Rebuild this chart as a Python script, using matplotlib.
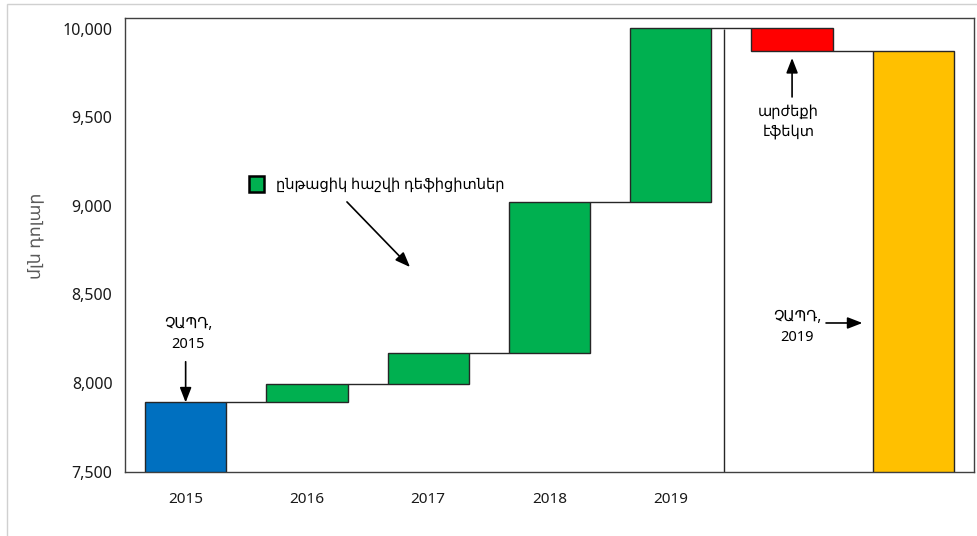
import matplotlib
matplotlib.use('Agg')
import matplotlib.pyplot as plt
from matplotlib.patches import Patch, Rectangle

plt.rcParams['font.family'] = ['Noto Sans', 'DejaVu Sans']

# Waterfall of the net position, mln USD
years = ['2015', '2016', '2017', '2018', '2019']
start_2015 = 7890
deficits = [105, 177, 851, 985]      # current account deficits 2016-2019
valuation = -133                     # valuation effect

blue = '#0070C0'
green = '#00B050'
red = '#FF0000'
yellow = '#FFC000'
edge = '#262626'
width = 0.67

fig = plt.figure(figsize=(9.77, 5.36), dpi=100)
ax = fig.add_axes([125 / 977, 64.5 / 536, 849 / 977, 453.5 / 536])

# first bar: starting position
ax.bar(0, start_2015 - 7500, width, bottom=7500, color=blue,
       edgecolor=edge, linewidth=1, zorder=3)

level = start_2015
levels = [level]
for i, d in enumerate(deficits):
    ax.bar(i + 1, d, width, bottom=level, color=green,
           edgecolor=edge, linewidth=1, zorder=3)
    level += d
    levels.append(level)

# valuation effect
ax.bar(5, valuation, width, bottom=level, color=red,
       edgecolor=edge, linewidth=1, zorder=3)
level += valuation
levels.append(level)

# final position
ax.bar(6, level - 7500, width, bottom=7500, color=yellow,
       edgecolor=edge, linewidth=1, zorder=3)

# connectors between bars
for i, lv in enumerate(levels):
    ax.hlines(lv, i + width / 2, i + 1 - width / 2, color=edge,
              linewidth=1, zorder=2)

# separator between yearly flows and the rest
ax.vlines(4.44, 7500, levels[4] - 8, color=edge, linewidth=1, zorder=2)

ax.set_xlim(-0.5, 6.5)
ax.set_ylim(7500, 10062)
ax.set_xticks(range(len(years)))
ax.set_xticklabels(years)
ax.set_yticks([7500, 8000, 8500, 9000, 9500, 10000])
ax.set_yticklabels(['7,500', '8,000', '8,500', '9,000', '9,500', '10,000'])
ax.tick_params(axis='x', length=0, pad=15, labelsize=11, colors='#1a1a1a')
ax.tick_params(axis='y', length=0, pad=9, labelsize=11.5, colors='#1a1a1a')
for s in ax.spines.values():
    s.set_color('#404040')
    s.set_linewidth(1)

fig.text(35 / 977, 1 - 236 / 536, 'մլն դոլար', rotation=90,
         ha='center', va='center', fontsize=12.5, color='#595959')

arrow = dict(arrowstyle='-|>,head_length=0.9,head_width=0.35',
             color='black', linewidth=1.2, shrinkA=0, shrinkB=0)

# start of period
ax.annotate('', xy=(0, start_2015), xytext=(0, 8120), arrowprops=arrow)
ax.text(0.02, 8272, 'ՉԱՊԴ,\n2015', ha='center', va='center',
        fontsize=10.5, linespacing=1.45)

# legend for the green bars
ax.legend(handles=[Patch(facecolor=green, edgecolor='black', linewidth=1.8)],
          labels=['ընթացիկ հաշվի դեֆիցիտներ'], loc='center left',
          bbox_to_anchor=(0.146, 0.632), frameon=False, fontsize=10.5,
          handlelength=1.0, handleheight=1.3, handletextpad=0.85,
          borderpad=0, borderaxespad=0)
ax.annotate('', xy=(1.85, 8655), xytext=(1.33, 9023), arrowprops=arrow)

# valuation effect
ax.annotate('', xy=(5, 9836), xytext=(5, 9616), arrowprops=arrow)
ax.text(4.97, 9472, 'արժեքի\nէֆեկտ', ha='center', va='center',
        fontsize=10.5, linespacing=1.45)

# end of period
ax.annotate('', xy=(5.58, 8339), xytext=(5.28, 8339), arrowprops=arrow)
ax.text(5.04, 8314, 'ՉԱՊԴ,\n2019', ha='center', va='center',
        fontsize=10.5, linespacing=1.45)

# chart area frame
fig.patches.append(Rectangle((7 / 977, -0.05), 1.2, 0.05 + 532 / 536,
                             transform=fig.transFigure, fill=False,
                             edgecolor='#d0d0d0', linewidth=1))

fig.savefig('out.png', dpi=100)
